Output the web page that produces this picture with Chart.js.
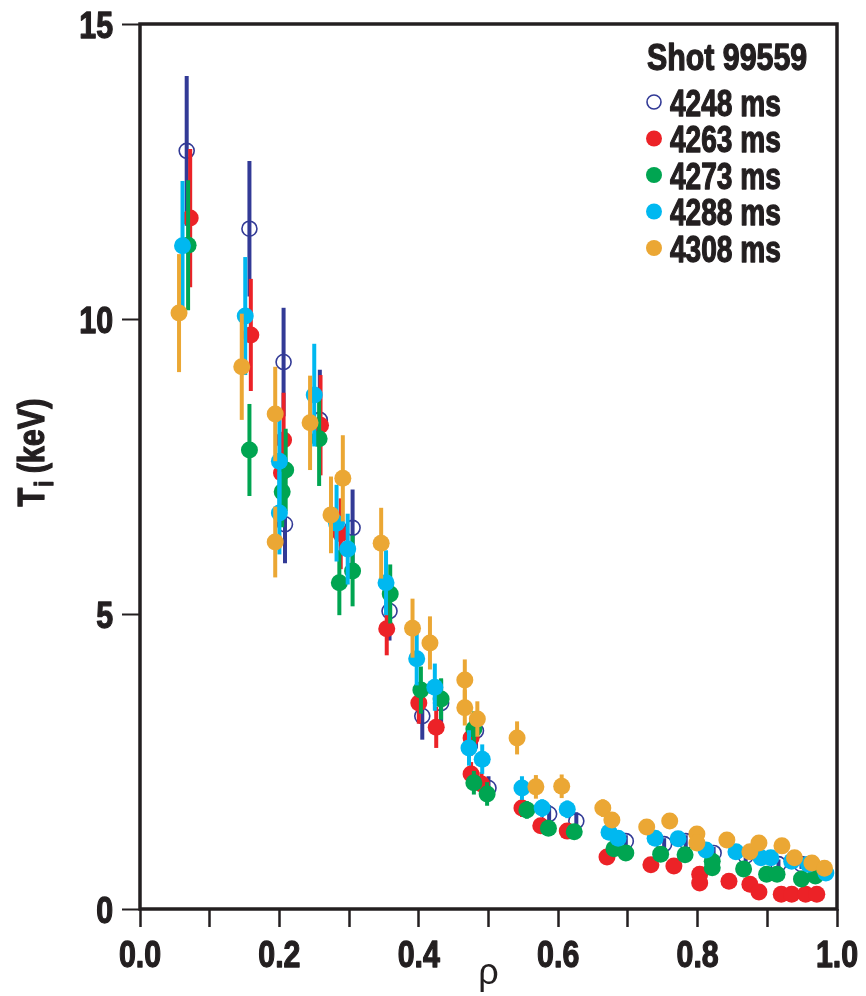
<!DOCTYPE html>
<html lang="en">
<head>
    <meta charset="UTF-8">
    <title>Ti profile, shot 99559</title>
    <script src="https://cdn.jsdelivr.net/npm/chart.js"></script>
    <style>
        body { margin: 0; background: #fff; }
        .wrap { width: 866px; height: 996px; position: relative; }
    </style>
</head>
<body>
<div class="wrap">
    <canvas id="tiChart"></canvas>
</div>
<script>
    // rho / Ti (keV) / error bar half-height
    const rho4248 = [0.067, 0.157, 0.206, 0.208, 0.258, 0.305, 0.358, 0.405, 0.432, 0.482, 0.5, 0.587, 0.626, 0.697, 0.752, 0.783, 0.823, 0.869, 0.916, 0.949];
    const ti4248  = [12.85, 11.53, 9.27, 6.52, 8.29, 6.46, 5.05, 3.27, 3.49, 3.02, 2.05, 1.61, 1.49, 1.15, 1.1, 1.15, 0.95, 0.9, 0.76, 0.76];
    const err4248 = [1.27, 1.15, 0.92, 0.66, 0.85, 0.65, 0.5, 0.4, 0.4, 0.3, 0.2, 0.15, 0.15, 0.1, 0.1, 0.1, 0.1, 0.1, 0.08, 0.08];

    const rho4263 = [0.072, 0.159, 0.206, 0.203, 0.259, 0.288, 0.354, 0.4, 0.425, 0.475, 0.475, 0.49, 0.548, 0.575, 0.613, 0.67, 0.733, 0.766, 0.803, 0.803, 0.845, 0.875, 0.888, 0.92, 0.935, 0.955, 0.971];
    const ti4263  = [11.71, 9.73, 7.95, 7.39, 8.2, 6.36, 4.75, 3.49, 3.08, 2.9, 2.29, 2.12, 1.71, 1.41, 1.32, 0.88, 0.75, 0.73, 0.59, 0.44, 0.47, 0.42, 0.29, 0.25, 0.25, 0.25, 0.25];
    const err4263 = [1.17, 0.95, 0.8, 0.6, 0.85, 0.6, 0.45, 0.35, 0.35, 0.3, 0.2, 0.2, 0.15, 0.1, 0.1, 0.08, 0.06, 0.06, 0.05, 0.05, 0.05, 0.05, 0.04, 0.04, 0.04, 0.04, 0.04];

    const rho4273 = [0.069, 0.157, 0.209, 0.204, 0.257, 0.286, 0.305, 0.359, 0.403, 0.432, 0.479, 0.479, 0.498, 0.555, 0.586, 0.623, 0.68, 0.697, 0.747, 0.782, 0.821, 0.821, 0.866, 0.899, 0.914, 0.949, 0.969];
    const ti4273  = [11.25, 7.78, 7.44, 7.07, 7.97, 5.53, 5.73, 5.34, 3.71, 3.56, 3.05, 2.14, 1.95, 1.68, 1.37, 1.31, 1.02, 0.95, 0.93, 0.92, 0.81, 0.7, 0.68, 0.59, 0.59, 0.51, 0.56];
    const err4273 = [1.1, 0.78, 0.7, 0.6, 0.8, 0.55, 0.6, 0.5, 0.4, 0.35, 0.3, 0.2, 0.2, 0.15, 0.1, 0.1, 0.08, 0.08, 0.06, 0.06, 0.05, 0.05, 0.05, 0.05, 0.05, 0.04, 0.04];

    const rho4288 = [0.061, 0.151, 0.2, 0.2, 0.25, 0.282, 0.298, 0.353, 0.397, 0.423, 0.472, 0.491, 0.548, 0.577, 0.613, 0.673, 0.686, 0.739, 0.772, 0.812, 0.855, 0.891, 0.905, 0.935, 0.959, 0.984];
    const ti4288  = [11.24, 10.05, 7.59, 6.71, 8.71, 6.54, 6.1, 5.53, 4.24, 3.76, 2.73, 2.54, 2.05, 1.71, 1.69, 1.3, 1.2, 1.2, 1.19, 1.0, 0.97, 0.87, 0.87, 0.81, 0.76, 0.61];
    const err4288 = [1.1, 1.0, 0.75, 0.7, 0.87, 0.65, 0.6, 0.55, 0.45, 0.4, 0.3, 0.25, 0.2, 0.15, 0.15, 0.1, 0.1, 0.08, 0.08, 0.06, 0.06, 0.05, 0.05, 0.05, 0.05, 0.04];

    const rho4308 = [0.056, 0.146, 0.194, 0.194, 0.244, 0.274, 0.291, 0.346, 0.391, 0.416, 0.466, 0.466, 0.484, 0.541, 0.568, 0.605, 0.664, 0.677, 0.727, 0.76, 0.799, 0.799, 0.842, 0.875, 0.888, 0.921, 0.939, 0.964, 0.982];
    const ti4308  = [10.1, 9.19, 8.39, 6.22, 8.24, 6.68, 7.3, 6.2, 4.76, 4.51, 3.88, 3.41, 3.22, 2.9, 2.07, 2.08, 1.71, 1.51, 1.39, 1.49, 1.27, 1.12, 1.17, 0.97, 1.12, 1.07, 0.87, 0.78, 0.69];
    const err4308 = [1.0, 0.9, 0.8, 0.6, 0.8, 0.65, 0.73, 0.6, 0.5, 0.45, 0.35, 0.3, 0.3, 0.28, 0.2, 0.2, 0.15, 0.12, 0.1, 0.1, 0.08, 0.08, 0.08, 0.06, 0.06, 0.06, 0.05, 0.05, 0.05];

    const seriesLabels = ['4248 ms', '4263 ms', '4273 ms', '4288 ms', '4308 ms'];
    const legendTitle = 'Shot 99559';
    const xTickLabels = ['0.0', '0.2', '0.4', '0.6', '0.8', '1.0'];
    const yTickValues = [0, 5, 10, 15];

    const NAVY = '#323a96', RED = '#ec2227', GREEN = '#00a551', CYAN = '#00b8f0', ORANGE = '#eba734';
    const INK = '#231f20';
    const FAMILY = '"Liberation Sans", Arial, Helvetica, sans-serif';

    function pts(xs, ys) {
        return xs.map((x, i) => ({ x: x, y: ys[i] }));
    }

    function makeSet(label, xs, ys, errs, color, order, open) {
        return {
            label: label,
            data: pts(xs, ys),
            errors: errs,
            barColor: color,
            order: order,
            showLine: false,
            pointRadius: open ? 7.5 : 8.5,
            pointHoverRadius: open ? 7.5 : 8.5,
            pointBorderWidth: open ? 1.6 : 0,
            pointBorderColor: color,
            pointBackgroundColor: open ? 'rgba(255,255,255,0)' : color,
            borderColor: color,
            backgroundColor: color,
            clip: false
        };
    }

    // heavy bold text squeezed sideways, close to the condensed face of the original
    function condensed(ctx, text, x, y, size, align, sx) {
        ctx.save();
        ctx.font = 'bold ' + size + 'px ' + FAMILY;
        ctx.textBaseline = 'alphabetic';
        ctx.textAlign = 'left';
        const w = ctx.measureText(text).width * sx;
        let left = x;
        if (align === 'right') left = x - w;
        if (align === 'center') left = x - w / 2;
        ctx.translate(left, y);
        ctx.scale(sx, 1);
        ctx.fillText(text, 0, 0);
        ctx.strokeStyle = ctx.fillStyle;
        ctx.lineWidth = 1.3;
        ctx.lineJoin = 'round';
        ctx.strokeText(text, 0, 0);
        ctx.restore();
        return w;
    }

    // error bars drawn just before each dataset's points
    const errorBars = {
        id: 'errorBars',
        beforeDatasetDraw(chart, args) {
            const ds = chart.data.datasets[args.index];
            const y = chart.scales.y;
            const ctx = chart.ctx;
            ctx.save();
            ctx.strokeStyle = ds.barColor;
            ctx.lineWidth = 4;
            ctx.lineCap = 'butt';
            args.meta.data.forEach((el, i) => {
                const v = ds.data[i].y, e = ds.errors[i];
                if (!e) return;
                ctx.beginPath();
                ctx.moveTo(el.x, y.getPixelForValue(v - e));
                ctx.lineTo(el.x, y.getPixelForValue(v + e));
                ctx.stroke();
            });
            ctx.restore();
        }
    };

    // frame, tick labels, y title with subscript, legend inside the plot
    const decorations = {
        id: 'decorations',
        afterDraw(chart) {
            const ctx = chart.ctx;
            const a = chart.chartArea;
            const xs = chart.scales.x, ys = chart.scales.y;
            ctx.save();
            ctx.strokeStyle = INK;
            ctx.lineWidth = 3.5;
            ctx.strokeRect(a.left, a.top, a.right - a.left, a.bottom - a.top);
            ctx.fillStyle = INK;

            xTickLabels.forEach((t, i) => {
                condensed(ctx, t, xs.getPixelForValue(i * 0.2), a.bottom + 58, 37, 'center', 0.82);
            });
            yTickValues.forEach(v => {
                condensed(ctx, String(v), a.left - 27, ys.getPixelForValue(v) + 14, 37, 'right', 0.82);
            });

            // y axis title
            ctx.save();
            ctx.translate(44, (a.top + a.bottom) / 2 - 14);
            ctx.rotate(-Math.PI / 2);
            const sx = 0.85;
            ctx.font = 'bold 36px ' + FAMILY;
            const w1 = ctx.measureText('T').width * sx;
            ctx.font = 'bold 25px ' + FAMILY;
            const w2 = ctx.measureText('i').width * sx;
            ctx.font = 'bold 36px ' + FAMILY;
            const w3 = ctx.measureText(' (keV)').width * sx;
            const x0 = -(w1 + w2 + w3) / 2;
            condensed(ctx, 'T', x0, 0, 36, 'left', sx);
            condensed(ctx, 'i', x0 + w1 + 1, 9, 25, 'left', sx);
            condensed(ctx, ' (keV)', x0 + w1 + w2, 0, 36, 'left', sx);
            ctx.restore();

            // legend
            const lx = a.right - 190;
            condensed(ctx, legendTitle, lx, a.top + 46, 37, 'left', 0.82);
            chart.data.datasets.forEach((ds, i) => {
                const ly = a.top + 78 + i * 36.5;
                ctx.beginPath();
                ctx.arc(lx + 7, ly, i === 0 ? 7 : 8, 0, Math.PI * 2);
                if (i === 0) {
                    ctx.lineWidth = 1.6;
                    ctx.strokeStyle = ds.barColor;
                    ctx.stroke();
                } else {
                    ctx.fillStyle = ds.barColor;
                    ctx.fill();
                }
                ctx.fillStyle = INK;
                condensed(ctx, seriesLabels[i], lx + 23, ly + 13.5, 36, 'left', 0.78);
            });
            ctx.restore();
        }
    };

    const datasets = [
        makeSet(seriesLabels[0], rho4248, ti4248, err4248, NAVY, 5, true),
        makeSet(seriesLabels[1], rho4263, ti4263, err4263, RED, 4, false),
        makeSet(seriesLabels[2], rho4273, ti4273, err4273, GREEN, 3, false),
        makeSet(seriesLabels[3], rho4288, ti4288, err4288, CYAN, 2, false),
        makeSet(seriesLabels[4], rho4308, ti4308, err4308, ORANGE, 1, false)
    ];

    const ctx = document.getElementById('tiChart').getContext('2d');
    new Chart(ctx, {
        type: 'scatter',
        data: { datasets: datasets },
        options: {
            responsive: true,
            maintainAspectRatio: false,
            animation: false,
            layout: { padding: { top: 24, right: 29, left: 0, bottom: 0 } },
            plugins: {
                legend: { display: false },
                tooltip: { enabled: false }
            },
            scales: {
                x: {
                    type: 'linear',
                    min: 0,
                    max: 1,
                    afterFit(scale) { scale.height = 87; },
                    ticks: { stepSize: 0.1, autoSkip: false, display: false },
                    grid: { drawOnChartArea: false, drawTicks: true, tickLength: 18, tickWidth: 2.5, tickColor: INK },
                    border: { display: false },
                    title: {
                        display: true,
                        text: 'ρ',
                        color: INK,
                        padding: { top: 0, bottom: 0 },
                        font: { family: FAMILY, size: 36, weight: 'normal' }
                    }
                },
                y: {
                    type: 'linear',
                    min: 0,
                    max: 15,
                    afterFit(scale) { scale.width = 140; },
                    afterBuildTicks(scale) { scale.ticks = yTickValues.map(v => ({ value: v })); },
                    ticks: { display: false },
                    grid: { drawOnChartArea: false, drawTicks: true, tickLength: 18, tickWidth: 2, tickColor: INK },
                    border: { display: false }
                }
            }
        },
        plugins: [errorBars, decorations]
    });
</script>
</body>
</html>
